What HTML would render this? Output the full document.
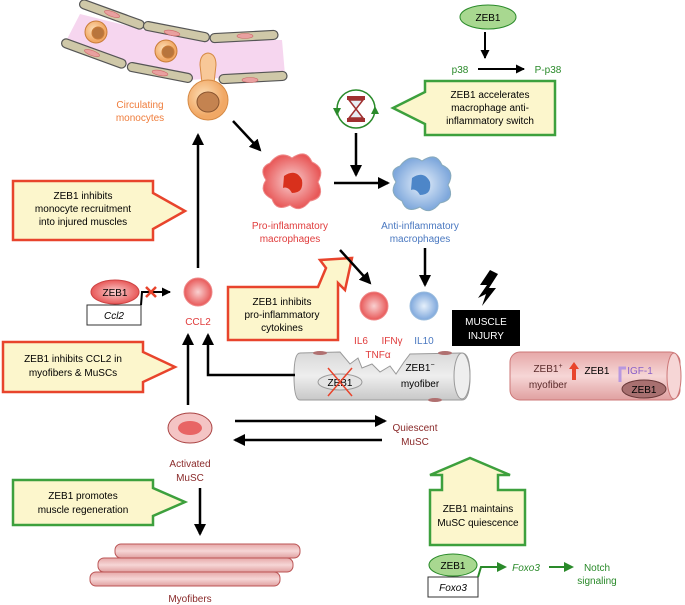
<!DOCTYPE html>
<html><head><meta charset="utf-8"><style>
body{margin:0;background:#fff}
svg{display:block;font-family:"Liberation Sans",sans-serif}
</style></head><body>
<svg width="685" height="605" viewBox="0 0 685 605" xmlns="http://www.w3.org/2000/svg">
<defs>
<marker id="ak" markerWidth="12" markerHeight="12" refX="10" refY="6" orient="auto" markerUnits="userSpaceOnUse"><path d="M0,0 L12,6 L0,12 Z" fill="#000"/></marker>
<marker id="as" markerWidth="9" markerHeight="9" refX="8" refY="4.5" orient="auto" markerUnits="userSpaceOnUse"><path d="M0,0 L9,4.5 L0,9 Z" fill="#000"/></marker>
<marker id="ag" markerWidth="10" markerHeight="10" refX="8" refY="5" orient="auto" markerUnits="userSpaceOnUse"><path d="M0,0 L10,5 L0,10 Z" fill="#2a8a2a"/></marker>
<radialGradient id="mono" cx="0.4" cy="0.4"><stop offset="0" stop-color="#fde0b8"/><stop offset="1" stop-color="#f1a865"/></radialGradient>
<radialGradient id="red" cx="0.5" cy="0.5"><stop offset="0" stop-color="#f9d0d0"/><stop offset="1" stop-color="#e85858"/></radialGradient>
<radialGradient id="blue" cx="0.5" cy="0.5"><stop offset="0" stop-color="#e6f0fb"/><stop offset="1" stop-color="#7fa8dc"/></radialGradient>
<linearGradient id="gray" x1="0" y1="0" x2="0" y2="1"><stop offset="0" stop-color="#d8d8d8"/><stop offset=".5" stop-color="#eee"/><stop offset="1" stop-color="#c8c8c8"/></linearGradient>
<linearGradient id="pink" x1="0" y1="0" x2="0" y2="1"><stop offset="0" stop-color="#e6a8a8"/><stop offset=".5" stop-color="#f6d6d6"/><stop offset="1" stop-color="#e0a0a0"/></linearGradient>
</defs>

<!-- vessel -->
<path d="M80,14 L145,30 L210,40 L282,40 L285,75 L220,78 L190,80 L128,65 L64,45 Z" fill="#f6d6ef"/>
<g fill="#cfc8a8" stroke="#555" stroke-width="1.2">
<rect x="78" y="10" width="68" height="9" rx="4.5" transform="rotate(20 112 14)"/>
<rect x="143" y="27" width="67" height="9" rx="4.5" transform="rotate(11 176 31)"/>
<rect x="210" y="32" width="68" height="9" rx="4.5" transform="rotate(-3 244 36)"/>
<rect x="60" y="49" width="68" height="9" rx="4.5" transform="rotate(20 94 53)"/>
<rect x="127" y="68" width="66" height="9" rx="4.5" transform="rotate(11 160 72)"/>
<rect x="219" y="73" width="68" height="9" rx="4.5" transform="rotate(-3 253 77)"/>
</g>
<g fill="#e9a0a0" stroke="#c66" stroke-width=".6">
<ellipse cx="112" cy="14" rx="8" ry="2.5" transform="rotate(20 112 14)"/>
<ellipse cx="172" cy="33" rx="8" ry="2.5" transform="rotate(11 172 33)"/><ellipse cx="245" cy="36" rx="8" ry="2.5"/>
<ellipse cx="92" cy="53" rx="8" ry="2.5" transform="rotate(20 92 53)"/>
<ellipse cx="160" cy="73" rx="8" ry="2.5" transform="rotate(11 160 73)"/><ellipse cx="250" cy="80" rx="8" ry="2.5"/>
</g>
<g stroke="#c97c38" stroke-width="1"><circle cx="96" cy="32" r="11" fill="url(#mono)"/><circle cx="98" cy="33" r="6" fill="#b8753c"/>
<circle cx="166" cy="51" r="11" fill="url(#mono)"/><circle cx="168" cy="52" r="6" fill="#b8753c"/></g>
<path d="M200,65 Q200,54 208,53 Q216,54 216,65 L214,83 L202,83 Z" fill="#f8c898" stroke="#d68a45"/>
<circle cx="208" cy="100" r="20" fill="url(#mono)" stroke="#d68a45"/>
<ellipse cx="208" cy="102" rx="11" ry="10" fill="#c48350" stroke="#8a5530"/>
<text x="140" y="108" fill="#ef7d3c" font-size="10" text-anchor="middle">Circulating</text>
<text x="140" y="121" fill="#ef7d3c" font-size="10" text-anchor="middle">monocytes</text>

<!-- macrophages -->
<path d="M270,163 Q280,150 292,158 Q306,148 312,162 Q326,168 318,182 Q326,198 310,201 Q300,214 290,205 Q276,212 272,199 Q258,192 266,180 Q258,168 270,163Z" fill="url(#red)" stroke="#e88" />
<path d="M284,176 Q296,168 302,180 Q304,193 292,193 Q288,186 283,188 Z" fill="#d8301c"/>
<text x="290" y="229" fill="#e03c3c" font-size="10" text-anchor="middle">Pro-inflammatory</text>
<text x="290" y="242" fill="#e03c3c" font-size="10" text-anchor="middle">macrophages</text>
<path d="M400,166 Q410,153 422,161 Q436,151 442,165 Q456,171 448,185 Q456,200 440,203 Q430,216 420,207 Q406,214 402,201 Q388,194 396,182 Q388,170 400,166Z" fill="url(#blue)" stroke="#8ab"/>
<path d="M412,178 Q424,170 430,182 Q432,195 420,195 Q416,188 411,190Z" fill="#4d86c8"/>
<text x="420" y="229" fill="#4a78c0" font-size="10" text-anchor="middle">Anti-inflammatory</text>
<text x="420" y="242" fill="#4a78c0" font-size="10" text-anchor="middle">macrophages</text>

<!-- ZEB1 p38 -->
<ellipse cx="488" cy="17" rx="28" ry="12" fill="#a8d890" stroke="#2a8a2a"/>
<text x="488" y="21" font-size="10" text-anchor="middle">ZEB1</text>
<text x="460" y="73" fill="#2a8a2a" font-size="10" text-anchor="middle">p38</text>
<text x="548" y="73" fill="#2a8a2a" font-size="10" text-anchor="middle">P-p38</text>

<!-- hourglass -->
<circle cx="356" cy="109" r="19" fill="none" stroke="#2a8a2a" stroke-width="1.5"/>
<rect x="347" y="96" width="18" height="4" fill="#a03030"/>
<rect x="347" y="118" width="18" height="4" fill="#a03030"/>
<path d="M349,100 L363,100 L356,109 L363,118 L349,118 L356,109Z" fill="#e8eef4" stroke="#a03030" stroke-width="1.5"/>
<path d="M333,108 l4,8 l4,-8z" fill="#2a8a2a"/><path d="M375,106 l4,8 l-8,0z" fill="#2a8a2a"/>

<!-- callouts -->
<path d="M425,81 L555,81 L555,135 L425,135 L425,124 L393,108 L425,92 Z" fill="#fcf6cc" stroke="#3da03d" stroke-width="2.5"/>
<text font-size="10" text-anchor="middle"><tspan x="490" y="98">ZEB1 accelerates</tspan><tspan x="490" y="111">macrophage anti-</tspan><tspan x="490" y="124">inflammatory switch</tspan></text>

<path d="M13,181 L153,181 L153,193 L185,211 L153,229 L153,240 L13,240 Z" fill="#fcf6cc" stroke="#e8442c" stroke-width="2.5"/>
<text font-size="10" text-anchor="middle"><tspan x="83" y="199">ZEB1 inhibits</tspan><tspan x="83" y="212">monocyte recruitment</tspan><tspan x="83" y="225">into injured muscles</tspan></text>

<path d="M228,287 L318,287 L326,268 L320,260 L352,258 L345,290 L338,283 L338,340 L228,340 Z" fill="#fcf6cc" stroke="#e8442c" stroke-width="2.5"/>
<text font-size="10" text-anchor="middle"><tspan x="282" y="305">ZEB1 inhibits</tspan><tspan x="282" y="318">pro-inflammatory</tspan><tspan x="282" y="331">cytokines</tspan></text>

<path d="M3,342 L143,342 L143,352 L175,367 L143,382 L143,392 L3,392 Z" fill="#fcf6cc" stroke="#e8442c" stroke-width="2.5"/>
<text font-size="10" text-anchor="middle"><tspan x="73" y="362">ZEB1 inhibits CCL2 in</tspan><tspan x="73" y="376">myofibers &amp; MuSCs</tspan></text>

<path d="M13,480 L153,480 L153,488 L185,502 L153,516 L153,525 L13,525 Z" fill="#fcf6cc" stroke="#3da03d" stroke-width="2.5"/>
<text font-size="10" text-anchor="middle"><tspan x="83" y="499">ZEB1 promotes</tspan><tspan x="83" y="513">muscle regeneration</tspan></text>

<path d="M430,545 L430,490 L442,490 L442,475 L430,475 L470,458 L510,475 L498,475 L498,490 L525,490 L525,545 Z" fill="#fcf6cc" stroke="#3da03d" stroke-width="2.5"/>
<text font-size="10" text-anchor="middle"><tspan x="478" y="512">ZEB1 maintains</tspan><tspan x="478" y="526">MuSC quiescence</tspan></text>

<!-- ZEB1 Ccl2 -->
<ellipse cx="115" cy="292" rx="24" ry="12" fill="url(#red)" stroke="#c44"/>
<text x="115" y="296" font-size="10" text-anchor="middle">ZEB1</text>
<rect x="87" y="305" width="54" height="20" fill="#fff" stroke="#333"/>
<text x="114" y="319" font-size="10" font-style="italic" text-anchor="middle">Ccl2</text>
<circle cx="198" cy="292" r="14" fill="url(#red)" stroke="#e88"/>
<text x="198" y="325" fill="#e03c3c" font-size="10" text-anchor="middle">CCL2</text>

<!-- gray myofiber -->
<path d="M300,353 L340,352 L350,364 L358,358 L362,368 L372,364 L380,372 L390,366 L396,374 L404,362 L410,354 L462,353 Q470,353 470,376 Q470,400 462,400 L300,400 Q294,400 294,376 Q294,353 300,353Z" fill="url(#gray)" stroke="#999"/>
<ellipse cx="462" cy="376" rx="8" ry="23" fill="#eee" stroke="#999"/>
<ellipse cx="320" cy="353" rx="7" ry="2" fill="#b07070"/><ellipse cx="445" cy="353" rx="7" ry="2" fill="#b07070"/><ellipse cx="435" cy="400" rx="7" ry="2" fill="#b07070"/>
<ellipse cx="340" cy="382" rx="22" ry="8" fill="#e4e4e4" stroke="#999"/>
<text x="340" y="386" font-size="10" text-anchor="middle">ZEB1</text>
<path d="M328,368 L352,396 M352,368 L328,396" stroke="#e8442c" stroke-width="1.5"/>
<text x="420" y="371" font-size="10" text-anchor="middle">ZEB1<tspan font-size="7" dy="-4">−</tspan></text>
<text x="420" y="387" font-size="10" text-anchor="middle">myofiber</text>

<!-- cytokines -->
<circle cx="374" cy="306" r="14" fill="url(#red)" stroke="#e88"/>
<circle cx="424" cy="306" r="14" fill="url(#blue)" stroke="#9bd"/>
<text font-size="10" fill="#e03c3c" text-anchor="middle"><tspan x="361" y="344">IL6</tspan><tspan x="392" y="344">IFNγ</tspan><tspan x="378" y="358">TNFα</tspan></text>
<text x="424" y="344" fill="#4a78c0" font-size="10" text-anchor="middle">IL10</text>
<rect x="452" y="310" width="68" height="36" fill="#000"/>
<text x="486" y="325" fill="#fff" font-size="10" text-anchor="middle">MUSCLE</text>
<text x="486" y="339" fill="#fff" font-size="10" text-anchor="middle">INJURY</text>
<path d="M490,270 L480,285 L487,285 L478,298 L486,294 L482,306 L496,288 L489,288 L498,274 Z" fill="#000"/>

<!-- pink myofiber -->
<rect x="510" y="352" width="170" height="48" rx="10" fill="url(#pink)" stroke="#c77"/>
<ellipse cx="674" cy="376" rx="7" ry="23" fill="#f6d6d6" stroke="#c77"/>
<text x="548" y="372" font-size="10" text-anchor="middle" fill="#5a2a2a">ZEB1<tspan font-size="7" dy="-4">+</tspan></text>
<text x="548" y="388" font-size="10" text-anchor="middle" fill="#5a2a2a">myofiber</text>
<path d="M572,380 L572,369 L569,369 L574,362 L579,369 L576,369 L576,380Z" fill="#e8442c"/>
<text x="597" y="374" font-size="10" text-anchor="middle">ZEB1</text>
<text x="640" y="374" font-size="10" fill="#8a60c8" text-anchor="middle">IGF-1</text>
<path d="M626,368 L620,368 L620,382" stroke="#b898e0" stroke-width="3" fill="none"/>
<ellipse cx="644" cy="389" rx="22" ry="9" fill="#a87070" stroke="#6a3a3a"/>
<text x="644" y="393" font-size="10" text-anchor="middle">ZEB1</text>

<!-- activated MuSC -->
<ellipse cx="190" cy="428" rx="22" ry="15" fill="#f4c4c4" stroke="#a44"/>
<ellipse cx="190" cy="428" rx="12" ry="7" fill="#e86464"/>
<text x="190" y="467" fill="#8a2a2a" font-size="10" text-anchor="middle">Activated</text>
<text x="190" y="481" fill="#8a2a2a" font-size="10" text-anchor="middle">MuSC</text>
<text x="415" y="431" fill="#8a2a2a" font-size="10" text-anchor="middle">Quiescent</text>
<text x="415" y="445" fill="#8a2a2a" font-size="10" text-anchor="middle">MuSC</text>

<!-- myofibers bundle -->
<g stroke="#b55" fill="url(#pink)">
<rect x="115" y="544" width="185" height="14" rx="6"/>
<rect x="98" y="558" width="195" height="14" rx="6"/>
<rect x="90" y="572" width="190" height="14" rx="6"/>
</g>
<text x="190" y="602" fill="#8a2a2a" font-size="10" text-anchor="middle">Myofibers</text>

<!-- Foxo3 -->
<ellipse cx="453" cy="565" rx="24" ry="11" fill="#a8d890" stroke="#2a8a2a"/>
<text x="453" y="569" font-size="10" text-anchor="middle">ZEB1</text>
<rect x="428" y="577" width="50" height="20" fill="#fff" stroke="#333"/>
<text x="453" y="591" font-size="10" font-style="italic" text-anchor="middle">Foxo3</text>
<polyline points="478,577 481,567 505,567" stroke="#2a8a2a" stroke-width="2" fill="none" marker-end="url(#ag)"/>
<text x="526" y="571" fill="#2a8a2a" font-size="10" font-style="italic" text-anchor="middle">Foxo3</text>
<line x1="549" y1="567" x2="572" y2="567" stroke="#2a8a2a" stroke-width="2" marker-end="url(#ag)"/>
<text x="597" y="571" fill="#2a8a2a" font-size="10" text-anchor="middle">Notch</text>
<text x="597" y="584" fill="#2a8a2a" font-size="10" text-anchor="middle">signaling</text>

<!-- arrows black (drawn last) -->
<g stroke="#000" stroke-width="2.5" fill="none">
<line x1="233" y1="121" x2="260" y2="150" marker-end="url(#ak)"/>
<line x1="334" y1="183" x2="388" y2="183" marker-end="url(#ak)"/>
<line x1="356" y1="133" x2="356" y2="175" marker-end="url(#ak)"/>
<line x1="198" y1="268" x2="198" y2="135" marker-end="url(#ak)"/>
<line x1="340" y1="250" x2="370" y2="283" marker-end="url(#ak)"/>
<line x1="425" y1="248" x2="425" y2="285" marker-end="url(#ak)"/>
<polyline points="295,375 208,375 208,335" marker-end="url(#ak)"/>
<line x1="188" y1="405" x2="188" y2="335" marker-end="url(#ak)"/>
<line x1="235" y1="421" x2="385" y2="421" marker-end="url(#ak)"/>
<line x1="382" y1="440" x2="235" y2="440" marker-end="url(#ak)"/>
<line x1="200" y1="488" x2="200" y2="534" marker-end="url(#ak)"/>
<line x1="485" y1="32" x2="485" y2="58" stroke-width="2" marker-end="url(#as)"/>
<line x1="478" y1="69" x2="524" y2="69" stroke-width="2" marker-end="url(#as)"/>
<polyline points="141,305 142,292 170,292" stroke-width="2" marker-end="url(#as)"/>
</g>
<path d="M146,287 L156,297 M156,287 L146,297" stroke="#e8442c" stroke-width="2.5"/>
</svg>
</body></html>
